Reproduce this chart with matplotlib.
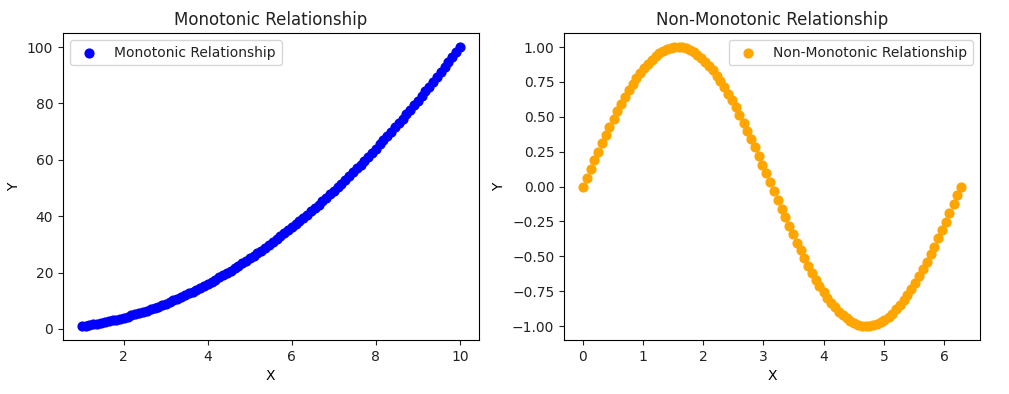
import matplotlib
matplotlib.use("Agg")
import matplotlib.pyplot as plt

# monotonic: points
mono_x = [1.00, 1.09, 1.18, 1.27, 1.36, 1.45, 1.55, 1.64, 1.73, 1.82,
          1.91, 2.00, 2.09, 2.18, 2.27, 2.36, 2.45, 2.55, 2.64, 2.73,
          2.82, 2.91, 3.00, 3.09, 3.18, 3.27, 3.36, 3.45, 3.55, 3.64,
          3.73, 3.82, 3.91, 4.00, 4.09, 4.18, 4.27, 4.36, 4.45, 4.55,
          4.64, 4.73, 4.82, 4.91, 5.00, 5.09, 5.18, 5.27, 5.36, 5.45,
          5.55, 5.64, 5.73, 5.82, 5.91, 6.00, 6.09, 6.18, 6.27, 6.36,
          6.45, 6.55, 6.64, 6.73, 6.82, 6.91, 7.00, 7.09, 7.18, 7.27,
          7.36, 7.45, 7.55, 7.64, 7.73, 7.82, 7.91, 8.00, 8.09, 8.18,
          8.27, 8.36, 8.45, 8.55, 8.64, 8.73, 8.82, 8.91, 9.00, 9.09,
          9.18, 9.27, 9.36, 9.45, 9.55, 9.64, 9.73, 9.82, 9.91, 10.00]
mono_y = [1.00, 1.19, 1.40, 1.62, 1.86, 2.12, 2.39, 2.68, 2.98, 3.31,
          3.64, 4.00, 4.37, 4.76, 5.17, 5.59, 6.02, 6.48, 6.95, 7.44,
          7.94, 8.46, 9.00, 9.55, 10.12, 10.71, 11.31, 11.93, 12.57, 13.22,
          13.89, 14.58, 15.28, 16.00, 16.74, 17.49, 18.26, 19.04, 19.84, 20.66,
          21.50, 22.35, 23.21, 24.10, 25.00, 25.92, 26.85, 27.80, 28.77, 29.75,
          30.75, 31.77, 32.80, 33.85, 34.92, 36.00, 37.10, 38.21, 39.35, 40.50,
          41.66, 42.84, 44.04, 45.26, 46.49, 47.74, 49.00, 50.28, 51.58, 52.89,
          54.22, 55.57, 56.93, 58.31, 59.71, 61.12, 62.55, 64.00, 65.46, 66.94,
          68.44, 69.95, 71.48, 73.02, 74.59, 76.17, 77.76, 79.37, 81.00, 82.64,
          84.31, 85.98, 87.68, 89.39, 91.12, 92.86, 94.62, 96.40, 98.19, 100.00]

# non-monotonic: points
wave_x = [0.00, 0.06, 0.13, 0.19, 0.25, 0.32, 0.38, 0.44, 0.51, 0.57,
          0.63, 0.70, 0.76, 0.83, 0.89, 0.95, 1.02, 1.08, 1.14, 1.21,
          1.27, 1.33, 1.40, 1.46, 1.52, 1.59, 1.65, 1.71, 1.78, 1.84,
          1.90, 1.97, 2.03, 2.09, 2.16, 2.22, 2.28, 2.35, 2.41, 2.48,
          2.54, 2.60, 2.67, 2.73, 2.79, 2.86, 2.92, 2.98, 3.05, 3.11,
          3.17, 3.24, 3.30, 3.36, 3.43, 3.49, 3.55, 3.62, 3.68, 3.74,
          3.81, 3.87, 3.93, 4.00, 4.06, 4.13, 4.19, 4.25, 4.32, 4.38,
          4.44, 4.51, 4.57, 4.63, 4.70, 4.76, 4.82, 4.89, 4.95, 5.01,
          5.08, 5.14, 5.20, 5.27, 5.33, 5.39, 5.46, 5.52, 5.59, 5.65,
          5.71, 5.78, 5.84, 5.90, 5.97, 6.03, 6.09, 6.16, 6.22, 6.28]
wave_y = [0.000, 0.063, 0.127, 0.189, 0.251, 0.312, 0.372, 0.430, 0.486, 0.541,
          0.593, 0.643, 0.690, 0.735, 0.776, 0.815, 0.850, 0.881, 0.910, 0.934,
          0.955, 0.972, 0.985, 0.994, 0.999, 1.000, 0.997, 0.990, 0.979, 0.964,
          0.945, 0.922, 0.896, 0.866, 0.833, 0.796, 0.756, 0.713, 0.667, 0.618,
          0.567, 0.514, 0.458, 0.401, 0.342, 0.282, 0.220, 0.158, 0.095, 0.032,
          -0.032, -0.095, -0.158, -0.220, -0.282, -0.342, -0.401, -0.458, -0.514, -0.567,
          -0.618, -0.667, -0.713, -0.756, -0.796, -0.833, -0.866, -0.896, -0.922, -0.945,
          -0.964, -0.979, -0.990, -0.997, -1.000, -0.999, -0.994, -0.985, -0.972, -0.955,
          -0.934, -0.910, -0.881, -0.850, -0.815, -0.776, -0.735, -0.690, -0.643, -0.593,
          -0.541, -0.486, -0.430, -0.372, -0.312, -0.251, -0.189, -0.127, -0.063, 0.000]

plt.rcParams['font.size'] = 10
plt.rcParams['axes.linewidth'] = 0.8
plt.rcParams['text.color'] = '#222222'
plt.rcParams['xtick.color'] = '#222222'
plt.rcParams['ytick.color'] = '#222222'

fig = plt.figure(figsize=(10.09, 3.94), dpi=100)
ax1 = fig.add_axes([0.0624, 0.137, 0.412, 0.779])
ax2 = fig.add_axes([0.559, 0.137, 0.412, 0.779])

ax1.scatter(mono_x, mono_y, color='blue', s=40, label='Monotonic Relationship')
ax1.set_title('Monotonic Relationship', fontsize=12)
ax1.set_xlabel('X')
ax1.set_ylabel('Y')
ax1.legend(loc='upper left')

ax2.scatter(wave_x, wave_y, color='orange', s=40, label='Non-Monotonic Relationship')
ax2.set_title('Non-Monotonic Relationship', fontsize=12)
ax2.set_xlabel('X')
ax2.set_ylabel('Y')
ax2.legend(loc='upper right')

fig.savefig('out.png', dpi=100)
